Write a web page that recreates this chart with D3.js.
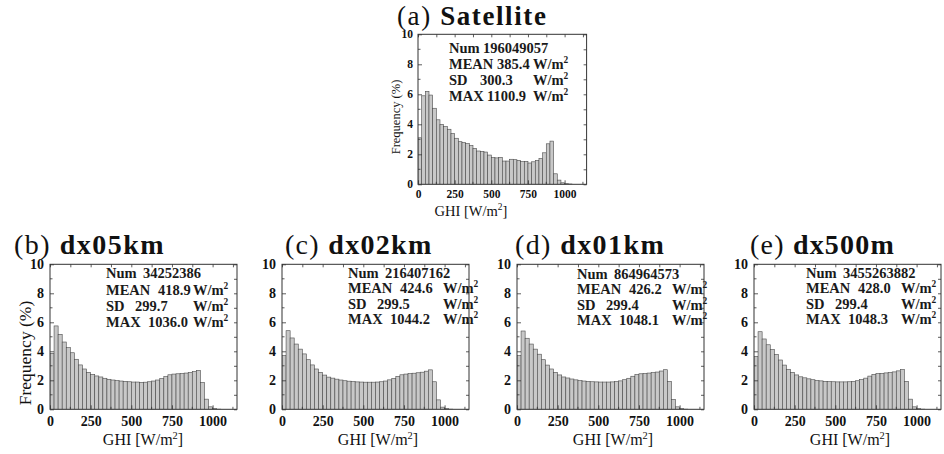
<!DOCTYPE html>
<html>
<head>
<meta charset="utf-8">
<script src="https://cdn.jsdelivr.net/npm/d3@7/dist/d3.min.js"></script>
<style>
  html, body { margin: 0; padding: 0; background: #fff; }
  svg { display: block; }
</style>
</head>
<body>
<svg id="chart" width="944" height="454" font-family="Liberation Serif"></svg>
<script>
// ---- Data (bin start values in W/m^2, bin width 25) ----
const binStart = [0,25,50,75,100,125,150,175,200,225,250,275,300,325,350,375,400,425,450,475,
  500,525,550,575,600,625,650,675,700,725,750,775,800,825,850,875,900,925,950,975,
  1000,1025,1050,1075,1100,1125,1150,1175];
const binWidth = 25;

const satellite = [3.1,5.9,6.2,5.95,5.07,4.3,4.0,3.85,3.67,3.38,3.07,2.84,2.78,2.71,2.58,2.4,2.22,2.2,2.15,1.95,
  1.78,1.76,1.8,1.55,1.55,1.67,1.64,1.6,1.51,1.53,1.42,1.5,1.6,1.72,2.1,2.7,2.88,0.7,0.28,0.1,
  0.04,0.02,0,0,0,0,0,0];
const dx05km = [3.86,5.75,5.17,4.64,4.25,3.9,3.45,3.06,2.78,2.55,2.41,2.3,2.23,2.14,2.07,2.02,1.98,1.95,1.93,1.9,
  1.88,1.88,1.86,1.87,1.9,1.95,2.02,2.12,2.25,2.38,2.43,2.45,2.47,2.5,2.54,2.6,2.68,1.85,0.7,0.17,
  0.05,0.01,0,0,0,0,0,0];
const dx02km = [3.7,5.42,4.92,4.5,4.15,3.82,3.42,3.06,2.78,2.55,2.36,2.22,2.15,2.08,2.02,1.97,1.94,1.91,1.89,1.88,
  1.87,1.87,1.87,1.88,1.9,1.95,2.03,2.13,2.27,2.38,2.43,2.46,2.49,2.52,2.56,2.63,2.72,1.9,0.65,0.15,
  0.05,0.01,0,0,0,0,0,0];
const dx01km = [3.7,5.4,4.9,4.5,4.15,3.8,3.42,3.05,2.78,2.55,2.37,2.23,2.16,2.09,2.03,1.98,1.95,1.92,1.9,1.89,
  1.88,1.88,1.88,1.89,1.91,1.96,2.04,2.14,2.28,2.4,2.45,2.47,2.5,2.53,2.57,2.64,2.73,1.92,0.68,0.17,
  0.05,0.01,0,0,0,0,0,0];
const dx500m = [3.65,5.35,4.85,4.45,4.12,3.78,3.4,3.05,2.76,2.55,2.37,2.24,2.17,2.1,2.04,1.99,1.96,1.93,1.91,1.9,
  1.89,1.89,1.89,1.9,1.92,1.97,2.05,2.15,2.29,2.41,2.46,2.48,2.51,2.54,2.58,2.65,2.74,1.93,0.7,0.17,
  0.05,0.01,0,0,0,0,0,0];

const panelLetters = ["(a)", "(b)", "(c)", "(d)", "(e)"];
const panelNames = ["Satellite", "dx05km", "dx02km", "dx01km", "dx500m"];
const statNum  = ["196049057", "34252386", "216407162", "864964573", "3455263882"];
const statMean = ["385.4", "418.9", "424.6", "426.2", "428.0"];
const statSD   = ["300.3", "299.7", "299.5", "299.4", "299.4"];
const statMax  = ["1100.9", "1036.0", "1044.2", "1048.1", "1048.3"];
const xTicks = [0, 250, 500, 750, 1000];
const yTicks = [0, 2, 4, 6, 8, 10];
const xDomain = [0, 1150];
const yDomain = [0, 10];

const seriesList = [satellite, dx05km, dx02km, dx01km, dx500m];

// ---- Layout (positions only) ----
const layout = [
  { left: 418, top: 34.3, bottom: 184.3, w: 168.6, tickFs: 11.5, tickPadX: 6, tickPadY: 5, yLab: true, yLabFs: 12.5, yLabX: 397, yLabY: 117,
    xLabFs: 14.5, xLabX: 471, xLabY: 216, tX: 397, tY: 24.5, tFs: 27, tLS: 1.6,
    sx: {lab: 449, num: 483, mean: 497, sd: 480, max: 487, unit: 533}, sy: [53, 69, 85, 101] },
  { left: 50, top: 264.3, bottom: 409.3, w: 187, tickFs: 14, tickPadX: 7, tickPadY: 6, yLab: true, yLabFs: 17.5, yLabX: 27, yLabY: 353,
    xLabFs: 16, xLabX: 143, xLabY: 445, tX: 14, tY: 253.5, tFs: 28, tLS: 1.5,
    sx: {lab: 106, num: 143, mean: 158, sd: 135, max: 148, unit: 193}, sy: [278, 295, 311, 327] },
  { left: 282, top: 264.3, bottom: 409.3, w: 187, tickFs: 14, tickPadX: 7, tickPadY: 6, yLab: false,
    xLabFs: 16, xLabX: 378, xLabY: 445, tX: 285, tY: 253.5, tFs: 28, tLS: 1.3,
    sx: {lab: 348, num: 385, mean: 400, sd: 377, max: 390, unit: 443}, sy: [278, 293, 309, 324] },
  { left: 517, top: 264.3, bottom: 409.3, w: 187, tickFs: 14, tickPadX: 7, tickPadY: 6, yLab: false,
    xLabFs: 16, xLabX: 613, xLabY: 445, tX: 515, tY: 253.5, tFs: 28, tLS: 1.4,
    sx: {lab: 577, num: 614, mean: 629, sd: 606, max: 619, unit: 672}, sy: [279, 294, 310, 325] },
  { left: 754, top: 264.3, bottom: 409.3, w: 187, tickFs: 14, tickPadX: 7, tickPadY: 6, yLab: false,
    xLabFs: 16, xLabX: 850, xLabY: 445, tX: 750, tY: 253.5, tFs: 28, tLS: 1.2,
    sx: {lab: 806, num: 843, mean: 858, sd: 835, max: 848, unit: 901}, sy: [278, 293, 309, 324] }
];
const statFs = 14.5;

const svg = d3.select("#chart");
const frameColor = "#333";
const FONT = "Liberation Serif";

function unitText(sel, x, y, fs) {
  const t = sel.append("text").attr("x", x).attr("y", y)
    .attr("font-size", fs).attr("font-weight", "bold").attr("font-family", FONT).attr("fill", "#1a1a1a");
  t.append("tspan").text("W/m");
  t.append("tspan").attr("font-size", fs * 0.65).attr("dy", -fs * 0.38).text("2");
  return t;
}

seriesList.forEach((vals, p) => {
  const L = layout[p];
  const x = d3.scaleLinear().domain(xDomain).range([L.left, L.left + L.w]);
  const y = d3.scaleLinear().domain(yDomain).range([L.bottom, L.top]);
  const g = svg.append("g").attr("font-family", FONT);

  const clipId = "clip" + p;
  svg.append("clipPath").attr("id", clipId).append("rect")
    .attr("x", L.left).attr("y", L.top).attr("width", L.w).attr("height", L.bottom - L.top);

  // bars
  g.append("g").attr("clip-path", `url(#${clipId})`)
    .selectAll("rect").data(vals.map((v, i) => ({ x0: binStart[i], v })).filter(d => d.v > 0))
    .join("rect")
    .attr("x", d => x(d.x0))
    .attr("width", d => x(d.x0 + binWidth) - x(d.x0))
    .attr("y", d => y(d.v))
    .attr("height", d => y(0) - y(d.v))
    .attr("fill", "#c8c8c8")
    .attr("stroke", "#4a4a4a")
    .attr("stroke-width", 0.6);

  // axes
  const xAxisB = d3.axisBottom(x).tickValues(xTicks).tickSizeInner(-4).tickSizeOuter(0)
    .tickPadding(L.tickPadX).tickFormat(d3.format("d"));
  const gxB = g.append("g").attr("transform", `translate(0,${L.bottom})`).call(xAxisB);
  const xAxisT = d3.axisTop(x).tickValues(d3.range(0, 1151, 125)).tickSizeInner(-3).tickSizeOuter(0).tickFormat("");
  const gxT = g.append("g").attr("transform", `translate(0,${L.top})`).call(xAxisT);
  const yAxisL = d3.axisLeft(y).tickValues(yTicks).tickSizeInner(-4).tickSizeOuter(0)
    .tickPadding(L.tickPadY).tickFormat(d3.format("d"));
  const gyL = g.append("g").attr("transform", `translate(${L.left},0)`).call(yAxisL);
  const yAxisR = d3.axisRight(y).tickValues(d3.range(0, 11, 1)).tickSizeInner(-3).tickSizeOuter(0).tickFormat("");
  const gyR = g.append("g").attr("transform", `translate(${L.left + L.w},0)`).call(yAxisR);

  [gxB, gxT, gyL, gyR].forEach(a => {
    a.attr("font-family", FONT).attr("font-size", L.tickFs);
    a.select(".domain").remove();
    a.selectAll("line").attr("stroke", frameColor).attr("stroke-width", 0.8);
    a.selectAll("text")
      .attr("font-family", FONT)
      .attr("font-size", L.tickFs).attr("font-weight", "bold").attr("fill", "#111");
  });
  // minor ticks
  g.append("g").selectAll("line").data(d3.range(125, 1151, 250)).join("line")
    .attr("x1", d => x(d)).attr("x2", d => x(d)).attr("y1", L.bottom).attr("y2", L.bottom - 2.5)
    .attr("stroke", frameColor).attr("stroke-width", 0.8);
  g.append("g").selectAll("line").data([1, 3, 5, 7, 9]).join("line")
    .attr("x1", L.left).attr("x2", L.left + 2.5).attr("y1", d => y(d)).attr("y2", d => y(d))
    .attr("stroke", frameColor).attr("stroke-width", 0.8);

  // frame
  g.append("rect").attr("x", L.left).attr("y", L.top).attr("width", L.w).attr("height", L.bottom - L.top)
    .attr("fill", "none").attr("stroke", frameColor).attr("stroke-width", 1);

  // title
  const t = g.append("text").attr("x", L.tX).attr("y", L.tY).attr("font-size", L.tFs)
    .attr("letter-spacing", L.tLS).attr("font-family", FONT).attr("fill", "#111");
  t.append("tspan").text(panelLetters[p] + " ");
  t.append("tspan").attr("font-weight", "bold").text(panelNames[p]);

  // stats
  const st = g.append("g").attr("font-size", statFs).attr("font-weight", "bold");
  const rows = [["Num", statNum[p], false], ["MEAN", statMean[p], true], ["SD", statSD[p], true], ["MAX", statMax[p], true]];
  const valX = [L.sx.num, L.sx.mean, L.sx.sd, L.sx.max];
  rows.forEach((r, i) => {
    st.append("text").attr("x", L.sx.lab).attr("y", L.sy[i]).attr("font-family", FONT).attr("fill", "#1a1a1a").text(r[0]);
    st.append("text").attr("x", valX[i]).attr("y", L.sy[i]).attr("font-family", FONT).attr("fill", "#1a1a1a").text(r[1]);
    if (r[2]) unitText(st, L.sx.unit, L.sy[i], statFs);
  });

  // x label
  const xl = g.append("text").attr("x", L.xLabX).attr("y", L.xLabY).attr("font-size", L.xLabFs)
    .attr("text-anchor", "middle").attr("font-family", FONT).attr("fill", "#111");
  xl.append("tspan").text("GHI [W/m");
  xl.append("tspan").attr("font-size", L.xLabFs * 0.65).attr("dy", -L.xLabFs * 0.38).text("2");
  xl.append("tspan").attr("dy", L.xLabFs * 0.38).text("]");

  // y label
  if (L.yLab) {
    g.append("text").attr("transform", `translate(${L.yLabX},${L.yLabY}) rotate(-90)`)
      .attr("text-anchor", "middle").attr("dominant-baseline", "middle").attr("font-family", FONT)
      .attr("fill", "#111").attr("font-size", L.yLabFs).text("Frequency (%)");
  }
});
</script>
</body>
</html>
